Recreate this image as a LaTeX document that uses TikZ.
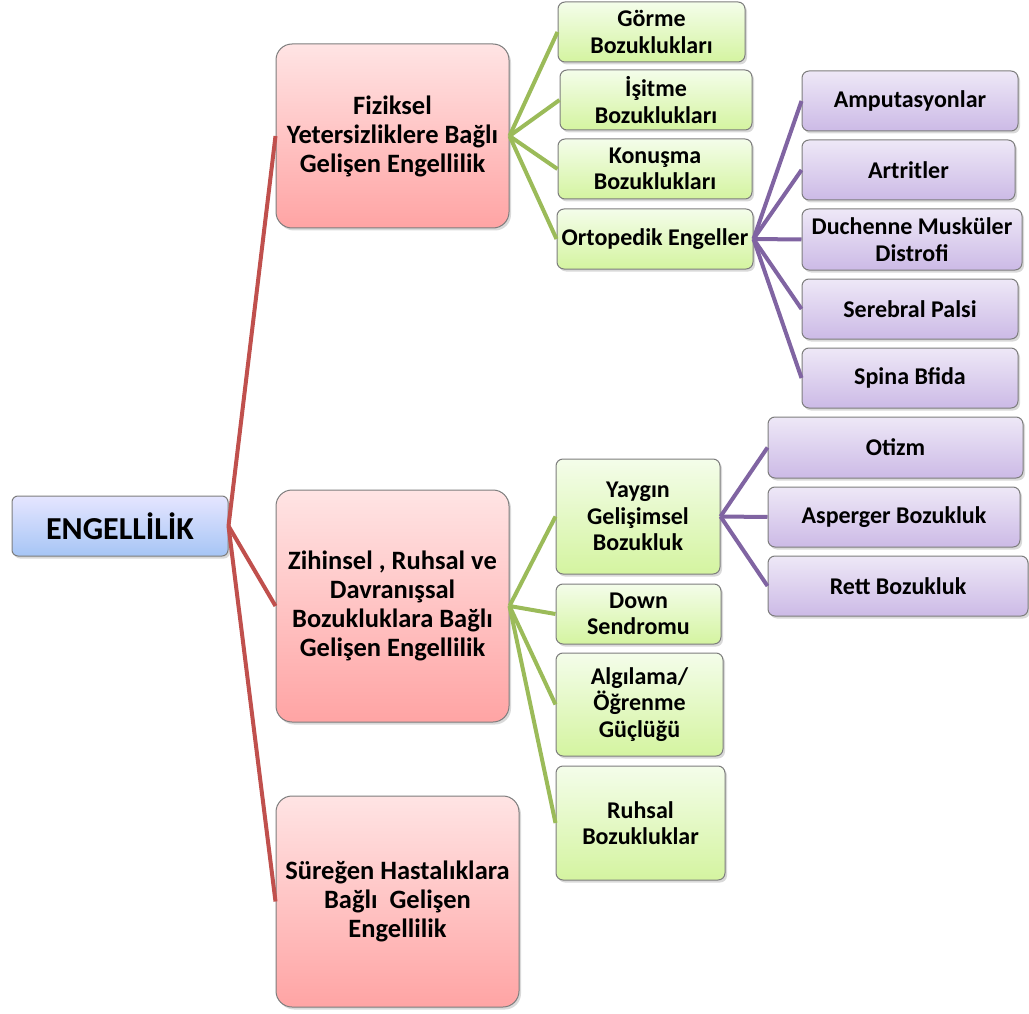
\documentclass[tikz,border=0pt]{standalone}
\usepackage{fontspec}
\setmainfont{Carlito}
\usepackage{xcolor}
\definecolor{ColR}{RGB}{192,80,77}
\definecolor{ColG}{RGB}{155,187,89}
\definecolor{ColP}{RGB}{128,100,162}
\definecolor{Frame}{RGB}{125,125,125}
\usepackage{tikz}
\usetikzlibrary{shadows}
\tikzstyle{Box}=[rectangle,draw=Frame,line width=1pt,inner sep=0pt,
align=center,text=black,
drop shadow={shadow xshift=2pt,shadow yshift=-2.5pt,opacity=.3}]
\tikzstyle{Root}=[Box,rounded corners=6pt,top color=blue!10!white,
bottom color={rgb,255:red,166;green,197;blue,245},
font=\fontsize{32}{36}\selectfont\bfseries]
\tikzstyle{Cat}=[Box,rounded corners=16pt,top color={rgb,255:red,255;green,228;blue,228},
bottom color={rgb,255:red,255;green,164;blue,164},
font=\fontsize{26.5}{29}\selectfont\bfseries]
\tikzstyle{Sub}=[Box,rounded corners=7pt,top color={rgb,255:red,244;green,253;blue,234},
bottom color={rgb,255:red,212;green,244;blue,160},
font=\fontsize{24}{26.5}\selectfont\bfseries]
\tikzstyle{Leaf}=[Box,rounded corners=7pt,top color={rgb,255:red,238;green,232;blue,247},
bottom color={rgb,255:red,204;green,186;blue,230},
font=\fontsize{24}{26.5}\selectfont\bfseries]
\tikzstyle{EdgeR}=[draw=ColR,line width=4pt]
\tikzstyle{EdgeG}=[draw=ColG,line width=4pt]
\tikzstyle{EdgeP}=[draw=ColP,line width=4pt]

\begin{document}
\begin{tikzpicture}[x=1pt,y=-1pt]
            \useasboundingbox(0,0)rectangle(1029,1014);
            % root and first level
            \node[Root,minimum width=216,minimum height=60](root)at(120,526)
                {ENGELLİLİK};
            \node[Cat,minimum width=233,minimum height=184](fiz)at(392.5,136)
                {Fiziksel\\Yetersizliklere Bağlı\\Gelişen Engellilik};
            \node[Cat,minimum width=233,minimum height=232](zih)at(392.5,606)
                {Zihinsel , Ruhsal ve\\Davranışsal\\Bozukluklara Bağlı\\Gelişen Engellilik};
            \node[Cat,minimum width=243,minimum height=211](sur)at(397.5,901.5)
                {Süreğen Hastalıklara\\Bağlı\ \ Gelişen\\Engellilik};
            % second level
            \node[Sub,minimum width=187,minimum height=60](gorme)at(651.5,32)
                {Görme\\Bozuklukları};
            \node[Sub,minimum width=192,minimum height=60](isitme)at(656,100)
                {İşitme\\Bozuklukları};
            \node[Sub,minimum width=194,minimum height=60](konusma)at(655,169)
                {Konuşma\\Bozuklukları};
            \node[Sub,minimum width=196,minimum height=60](orto)at(655,239)
                {Ortopedik Engeller};
            \node[Sub,minimum width=164,minimum height=115](yaygin)at(638,516.5)
                {Yaygın\\Gelişimsel\\Bozukluk};
            \node[Sub,minimum width=165,minimum height=60](down)at(638.5,614)
                {Down\\Sendromu};
            \node[Sub,minimum width=167,minimum height=103](algi)at(639.5,704.5)
                {Algılama/\\Öğrenme\\Güçlüğü};
            \node[Sub,minimum width=169,minimum height=114](ruhsal)at(640.5,823)
                {Ruhsal\\Bozukluklar};
            % third level
            \node[Leaf,minimum width=216,minimum height=60](amp)at(910,101)
                {Amputasyonlar};
            \node[Leaf,minimum width=213,minimum height=60](art)at(908.5,170)
                {Artritler};
            \node[Leaf,minimum width=220,minimum height=61](duch)at(912,239.5)
                {Duchenne Musküler\\Distrofi};
            \node[Leaf,minimum width=216,minimum height=60](sere)at(910,309)
                {Serebral Palsi};
            \node[Leaf,minimum width=216,minimum height=60](spina)at(910,378)
                {Spina Bfida};
            \node[Leaf,minimum width=255,minimum height=61](otizm)at(895.5,447.5)
                {Otizm};
            \node[Leaf,minimum width=252,minimum height=60](asp)at(894,517)
                {Asperger Bozukluk};
            \node[Leaf,minimum width=260,minimum height=60](rett)at(898,586)
                {Rett Bozukluk};
            % connectors
            \foreach \c in {fiz,zih,sur}
                \draw[EdgeR](root.east)--(\c.west);
            \foreach \c in {gorme,isitme,konusma,orto}
                \draw[EdgeG](fiz.east)--(\c.west);
            \foreach \c in {yaygin,down,algi,ruhsal}
                \draw[EdgeG](zih.east)--(\c.west);
            \foreach \c in {amp,art,duch,sere,spina}
                \draw[EdgeP](orto.east)--(\c.west);
            \foreach \c in {otizm,asp,rett}
                \draw[EdgeP](yaygin.east)--(\c.west);
        \end{tikzpicture}
\end{document}
